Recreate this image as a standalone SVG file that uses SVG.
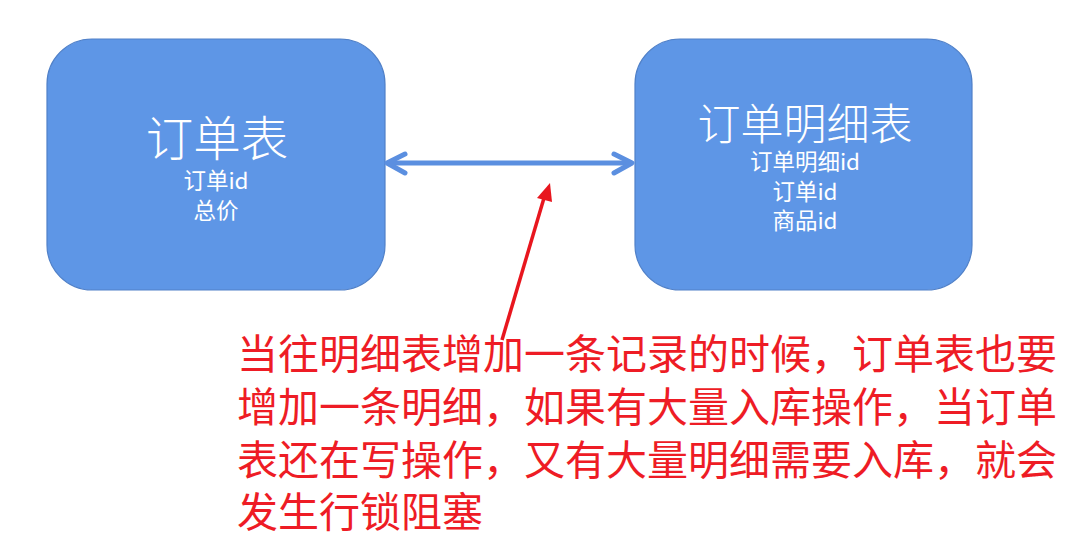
<svg xmlns="http://www.w3.org/2000/svg" width="1068" height="538" viewBox="0 0 1068 538">
<defs>
<style>
.box{fill:#5e96e6;stroke:#5080c8;stroke-width:1.2}
.t{font-family:"Noto Sans CJK SC","Liberation Sans",sans-serif;fill:#ffffff;text-anchor:middle}
.title{font-weight:300}
.sub{font-size:22.5px}
.note{font-family:"Noto Sans CJK SC","Liberation Sans",sans-serif;fill:#ee1c25;font-size:41px}
</style>
</defs>
<rect width="1068" height="538" fill="#ffffff"/>
<g id="node-order">
<rect class="box" x="47" y="39" width="338" height="251" rx="45" ry="45"/>
<text class="t title" x="217" y="156" font-size="47.5">订单表</text>
<text class="t sub" x="216" y="189">订单id</text>
<text class="t sub" x="216" y="219">总价</text>
</g>
<g id="node-detail">
<rect class="box" x="635" y="39" width="337" height="251" rx="45" ry="45"/>
<text class="t title" x="805" y="140" font-size="43">订单明细表</text>
<text class="t sub" x="805" y="170">订单明细id</text>
<text class="t sub" x="805" y="200">订单id</text>
<text class="t sub" x="805" y="229">商品id</text>
</g>
<g id="connectors">
<line x1="387" y1="163" x2="632" y2="163" stroke="#5b8fe0" stroke-width="5"/>
<polyline points="405,154 387,163 405,173" fill="none" stroke="#5b8fe0" stroke-width="5" stroke-linecap="round" stroke-linejoin="round"/>
<polyline points="614,154 632,163 614,173" fill="none" stroke="#5b8fe0" stroke-width="5" stroke-linecap="round" stroke-linejoin="round"/>
<line x1="502" y1="340" x2="544" y2="198" stroke="#e8161e" stroke-width="3.5"/>
<polygon points="550,183 537,198 552,202" fill="#e8161e"/>
</g>
<g id="note">
<text class="note" x="237" y="369">当往明细表增加一条记录的时候，订单表也要</text>
<text class="note" x="237" y="422">增加一条明细，如果有大量入库操作，当订单</text>
<text class="note" x="237" y="475">表还在写操作，又有大量明细需要入库，就会</text>
<text class="note" x="237" y="527">发生行锁阻塞</text>
</g>
</svg>
